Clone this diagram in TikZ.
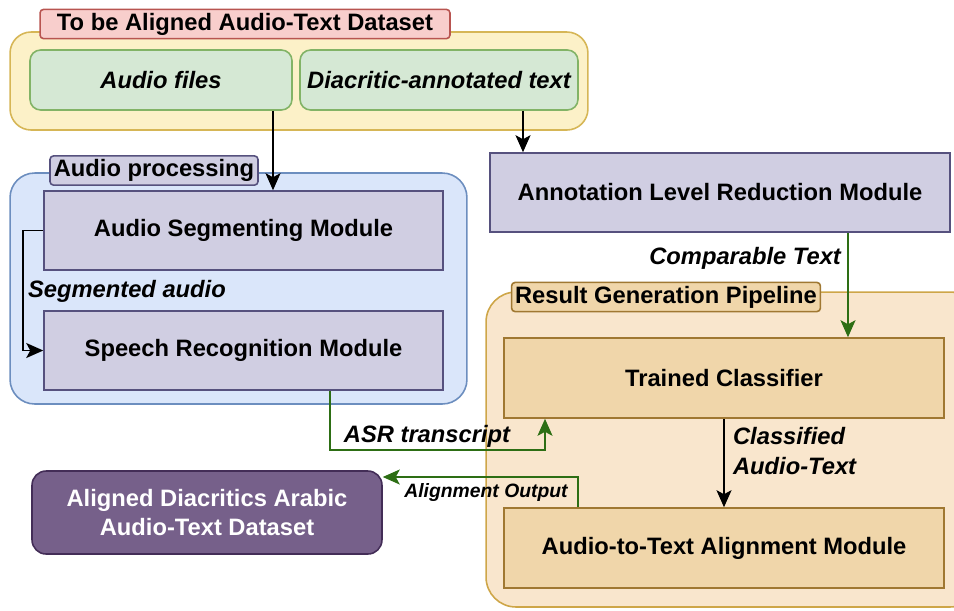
\documentclass[tikz,border=0pt]{standalone}
\usepackage{fontspec}
\setmainfont{Liberation Sans}
\usepackage{tikz}
\usetikzlibrary{arrows.meta,positioning,calc}
\definecolor{sandfill}{RGB}{252,241,200}
\definecolor{sandline}{RGB}{214,182,86}
\definecolor{rosefill}{RGB}{248,206,204}
\definecolor{roseline}{RGB}{184,84,80}
\definecolor{mintfill}{RGB}{213,232,212}
\definecolor{mintline}{RGB}{130,179,102}
\definecolor{skyfill}{RGB}{218,230,250}
\definecolor{skyline}{RGB}{108,142,191}
\definecolor{lilacfill}{RGB}{208,206,226}
\definecolor{lilacline}{RGB}{86,81,126}
\definecolor{peachfill}{RGB}{249,230,205}
\definecolor{peachline}{RGB}{206,166,72}
\definecolor{tanfill}{RGB}{240,214,170}
\definecolor{tanline}{RGB}{160,120,50}
\definecolor{plumfill}{RGB}{118,96,138}
\definecolor{plumline}{RGB}{67,45,87}
\definecolor{flowgreen}{RGB}{45,110,20}
\tikzset{
  base/.style={font=\fontsize{13.5}{17}\selectfont\bfseries, align=center, inner sep=2pt, text=black},
  group/.style={rectangle, draw=#1line, fill=#1fill, line width=0.9pt},
  tag/.style={base, rectangle, rounded corners=2pt, draw=#1line, fill=#1fill, line width=0.9pt},
  module/.style={base, rectangle, draw=#1line, fill=#1fill, line width=0.9pt},
  src/.style={base, rectangle, rounded corners=6pt, draw=mintline, fill=mintfill, line width=0.9pt, font=\fontsize{13.5}{17}\selectfont\bfseries\itshape},
  result/.style={base, rectangle, rounded corners=8pt, draw=plumline, fill=plumfill, line width=0.9pt, text=white},
  arr/.style={-{Stealth[length=3.4mm,width=3mm,inset=0.8mm]}, line width=1.05pt, draw=black},
  garr/.style={arr, draw=flowgreen, -{Stealth[length=3.4mm,width=3mm,inset=0.8mm,fill=flowgreen]}},
  lbl/.style={font=\fontsize{13.5}{17}\selectfont\bfseries\itshape, inner sep=1pt, align=left},
}
\begin{document}
\begin{tikzpicture}[x=0.02cm,y=-0.02cm]
  \useasboundingbox (0,0) rectangle (954,610);
  % containers
  \node[group=sand, rounded corners=12pt, minimum width=11.56cm, minimum height=1.96cm] (dataset) at (299,81) {};
  \node[group=sky, rounded corners=14pt, minimum width=9.14cm, minimum height=4.62cm] (proc) at (238.5,288.5) {};
  \node[group=peach, rounded corners=17pt, minimum width=9.88cm, minimum height=6.3cm] (pipe) at (733,449.5) {};
  % container titles
  \node[tag=rose, minimum width=8.2cm, minimum height=0.56cm] (datatag) at (245,24) {To be Aligned Audio-Text Dataset};
  \node[tag=lilac, minimum width=4.16cm, minimum height=0.54cm] (proctag) at (154,170.5) {Audio processing};
  \node[tag=tan, minimum width=6.16cm, minimum height=0.52cm] (pipetag) at (666,297) {Result Generation Pipeline};
  % inputs
  \node[src, minimum width=5.24cm, minimum height=1.2cm] (files) at (161,80) {Audio files};
  \node[src, minimum width=5.56cm, minimum height=1.2cm] (diac) at (439,80) {Diacritic-annotated text};
  % modules
  \node[module=lilac, minimum width=7.98cm, minimum height=1.58cm] (seg) at (243.5,230.5) {Audio Segmenting Module};
  \node[module=lilac, minimum width=7.98cm, minimum height=1.58cm] (asr) at (243.5,350.5) {Speech Recognition Module};
  \node[module=lilac, minimum width=9.2cm, minimum height=1.58cm] (alr) at (720,192.5) {Annotation Level Reduction Module};
  \node[module=tan, minimum width=8.8cm, minimum height=1.6cm] (clf) at (724,378) {Trained Classifier};
  \node[module=tan, minimum width=8.8cm, minimum height=1.6cm] (align) at (724,548) {Audio-to-Text Alignment Module};
  \node[result, minimum width=7cm, minimum height=1.66cm] (out) at (207,512.5) {Aligned Diacritics Arabic\\Audio-Text Dataset};
  % bend points
  \coordinate (filesx) at (273,0);
  \coordinate (diacx) at (523,0);
  \coordinate (cmpx) at (848,0);
  \coordinate (asrturn) at (545,450);
  \coordinate (outturn) at (578,477);
  % flows
  \draw[arr] (files.south -| filesx) -- (seg.north -| filesx);
  \draw[arr] (diac.south -| diacx) -- (alr.north -| diacx);
  \draw[arr] (seg.west) -- ++(-20,0) |- (asr.west);
  \node[lbl, anchor=west] (seglbl) at (26,291) {Segmented audio};
  \draw[garr] (alr.south -| cmpx) -- (clf.north -| cmpx);
  \node[lbl, anchor=east] (cmplbl) at (843,258) {Comparable Text};
  \draw[garr] ([xshift=1.73cm]asr.south) |- (asrturn) -- (clf.south -| asrturn);
  \node[lbl] (asrlbl) at (427,436) {ASR transcript};
  \draw[arr] (clf.south) -- (align.north);
  \node[lbl, anchor=west] (clslbl) at (731,451) {Classified\\Audio-Text};
  \draw[garr] (align.north -| outturn) -- (outturn) -- (out.east |- outturn);
  \node[lbl, font=\fontsize{11}{13}\selectfont\bfseries\itshape] (outlbl) at (486,492) {Alignment Output};
\end{tikzpicture}
\end{document}
